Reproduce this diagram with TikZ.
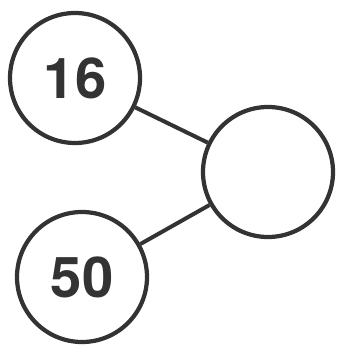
\documentclass[tikz,border=0pt]{standalone}
\usepackage{fontspec}
\setmainfont{TeX Gyre Heros}
\definecolor{ink}{HTML}{333333}
\begin{document}
\begin{tikzpicture}[x=0.3mm,y=-0.3mm,
    ring/.style={circle,draw=ink,line width=3.6pt,minimum size=39mm,inner sep=0pt,
      text=ink,font=\fontsize{48}{58}\selectfont\bfseries},
    link/.style={draw=ink,line width=3.4pt}]
    \useasboundingbox (0,0) rectangle (339,348);
    \node[ring] (sixteen) at (75,78) {16};
    \node[ring] (total) at (268,172) {};
    \node[ring] (fifty) at (82,277) {50};
    \draw[link] (sixteen) -- (total);
    \draw[link] (fifty) -- (total);
\end{tikzpicture}
\end{document}
